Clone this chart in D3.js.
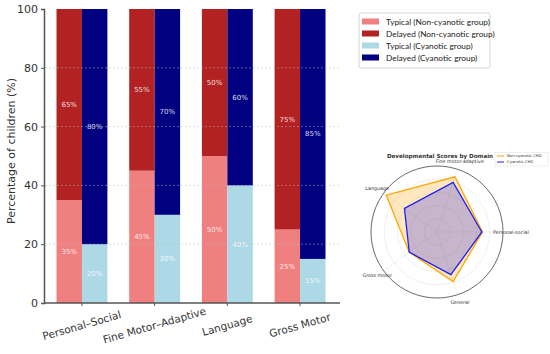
<!DOCTYPE html>
<html>
<head>
<meta charset="utf-8">
<script src="https://cdn.jsdelivr.net/npm/d3@7"></script>
<style>
  body { margin: 0; background: #fff; }
  svg { display: block; font-family: "DejaVu Sans", sans-serif; }
</style>
</head>
<body>
<div id="chart"></div>
<script>
// Bar chart data (percent of children)
var domains = ["Personal–Social", "Fine Motor–Adaptive", "Language", "Gross Motor"];
var typicalNonCyan = [35, 45, 50, 25];
var delayedNonCyan = [65, 55, 50, 75];
var typicalCyan = [20, 30, 40, 15];
var delayedCyan = [80, 70, 60, 85];
var yTicks = [0, 20, 40, 60, 80, 100];
var legendLabels = ["Typical (Non-cyanotic group)", "Delayed (Non-cyanotic group)",
                    "Typical (Cyanotic group)", "Delayed (Cyanotic group)"];

// Radar data
var radarAxes = ["Personal-social", "Fine motor-adaptive", "Language", "Gross motor", "General"];
var radarNonCyan = [69, 88, 95, 52, 79];
var radarCyan = [68, 79, 61, 52, 68];
var radarSeries = ["Non-cyanotic CHD", "Cyanotic CHD"];

var colors = ["#f08080", "#b22222", "#add8e6", "#000080"];

var W = 550, H = 354;
var svg = d3.select("#chart").append("svg").attr("width", W).attr("height", H);

// ---------- Bar chart ----------
var y = d3.scaleLinear().domain([0, 100]).range([303, 9]);
var x = d3.scaleBand().domain(domains).range([45.6, 336.4]).paddingInner(0.3).paddingOuter(0.15);
var sub = d3.scaleBand().domain(["non", "cyan"]).range([0, x.bandwidth()]);

var stacks = [
  {grp: "non", low: typicalNonCyan, high: delayedNonCyan, c0: colors[0], c1: colors[1]},
  {grp: "cyan", low: typicalCyan, high: delayedCyan, c0: colors[2], c1: colors[3]}
];

var bars = svg.append("g");
stacks.forEach(function(s) {
  domains.forEach(function(d, i) {
    var bx = x(d) + sub(s.grp);
    var lo = s.low[i], hi = s.high[i];
    bars.append("rect").attr("x", bx).attr("y", y(lo)).attr("width", sub.bandwidth())
      .attr("height", y(0) - y(lo)).attr("fill", s.c0);
    bars.append("rect").attr("x", bx).attr("y", y(lo + hi)).attr("width", sub.bandwidth())
      .attr("height", y(lo) - y(lo + hi)).attr("fill", s.c1);
    bars.append("text").attr("x", bx + sub.bandwidth() / 2).attr("y", y(lo / 2))
      .attr("dy", "0.35em").attr("text-anchor", "middle").attr("font-size", 7)
      .attr("fill", "#fff").attr("fill-opacity", 0.85).text(lo + "%");
    bars.append("text").attr("x", bx + sub.bandwidth() / 2).attr("y", y(lo + hi / 2))
      .attr("dy", "0.35em").attr("text-anchor", "middle").attr("font-size", 7)
      .attr("fill", "#fff").attr("fill-opacity", 0.85).text(hi + "%");
  });
});

// grid on top, faint dotted
svg.append("g").selectAll("line").data(yTicks.filter(function(t) { return t > 0 && t < 100; }))
  .enter().append("line")
  .attr("x1", 45).attr("x2", 340)
  .attr("y1", function(d) { return y(d); }).attr("y2", function(d) { return y(d); })
  .attr("stroke", "#bbb").attr("stroke-opacity", 0.6).attr("stroke-dasharray", "2,2").attr("stroke-width", 0.8);

// Y axis
var yAxis = svg.append("g").attr("transform", "translate(44,0)")
  .call(d3.axisLeft(y).tickValues(yTicks).tickSize(3).tickPadding(3));
yAxis.select(".domain").attr("stroke", "#555").attr("stroke-width", 1.5);
yAxis.selectAll(".tick line").attr("stroke", "#555");
yAxis.selectAll("text").attr("font-size", 11).attr("fill", "#333").attr("font-family", "DejaVu Sans");

// X axis
var xAxis = svg.append("g").attr("transform", "translate(0,303)")
  .call(d3.axisBottom(x).tickSize(3).tickSizeOuter(0));
xAxis.select(".domain").attr("stroke", "#555").attr("stroke-width", 1.5)
  .attr("d", "M44,0H340");
xAxis.selectAll(".tick line").attr("stroke", "#555");
xAxis.selectAll(".tick").attr("transform", function(d) {
  return "translate(" + (x(d) + x.bandwidth() / 2) + ",0)";
});
xAxis.selectAll("text").attr("font-size", 10.5).attr("fill", "#333").attr("font-family", "DejaVu Sans")
  .attr("y", 0).attr("dy", 0)
  .attr("transform", "translate(0,23) rotate(-16)")
  .attr("text-anchor", "middle").attr("dominant-baseline", "middle");

// Y label
svg.append("text").attr("transform", "translate(12,151) rotate(-90)")
  .attr("text-anchor", "middle").attr("dominant-baseline", "middle")
  .attr("font-size", 11).attr("fill", "#333").text("Percentage of children (%)");

// Legend
var lg = svg.append("g").attr("transform", "translate(359,13)");
lg.append("rect").attr("width", 131).attr("height", 55).attr("rx", 2)
  .attr("fill", "#fff").attr("stroke", "#ccc").attr("stroke-width", 0.8);
legendLabels.forEach(function(l, i) {
  lg.append("rect").attr("x", 3).attr("y", 5.5 + i * 12).attr("width", 17).attr("height", 6)
    .attr("fill", colors[i]);
  lg.append("text").attr("x", 27).attr("y", 9 + i * 12).attr("dy", "0.35em")
    .attr("font-family", "Lato").attr("font-size", 8.3).attr("fill", "#222").text(l);
});

// ---------- Radar chart ----------
var cx = 437, cy = 232, R = 66;
var r = d3.scaleLinear().domain([0, 100]).range([0, R]);
var ang = d3.scaleLinear().domain([0, radarAxes.length]).range([0, 2 * Math.PI]);
var radar = svg.append("g").attr("transform", "translate(" + cx + "," + cy + ")");

function pt(i, v) {
  var a = ang(i);
  return [r(v) * Math.cos(a), -r(v) * Math.sin(a)];
}

[20, 40, 60, 80].forEach(function(v) {
  radar.append("circle").attr("r", r(v)).attr("fill", "none").attr("stroke", "#e6e6e6").attr("stroke-width", 0.6);
});
radarAxes.forEach(function(a, i) {
  var p = pt(i, 100);
  radar.append("line").attr("x1", 0).attr("y1", 0).attr("x2", p[0]).attr("y2", p[1])
    .attr("stroke", "#e6e6e6").attr("stroke-width", 0.6);
});
radar.append("circle").attr("r", R).attr("fill", "none").attr("stroke", "#444").attr("stroke-width", 0.8);

var line = d3.line().curve(d3.curveLinearClosed);
[[radarNonCyan, "#ffa500"], [radarCyan, "#2020ee"]].forEach(function(s) {
  var pts = s[0].map(function(v, i) { return pt(i, v); });
  radar.append("path").attr("d", line(pts)).attr("fill", s[1]).attr("fill-opacity", 0.25)
    .attr("stroke", s[1]).attr("stroke-width", 1.3);
});

radarAxes.forEach(function(a, i) {
  var p = pt(i, 112);
  radar.append("text").attr("x", p[0]).attr("y", p[1]).attr("text-anchor", "middle")
    .attr("dy", "0.35em").attr("font-size", 4.8).attr("fill", "#333").text(a);
});

svg.append("text").attr("x", 440).attr("y", 156).attr("text-anchor", "middle").attr("dy", "0.35em")
  .attr("font-size", 5.6).attr("font-weight", "bold").attr("fill", "#333")
  .text("Developmental Scores by Domain");

var rl = svg.append("g").attr("transform", "translate(495,152.5)");
rl.append("rect").attr("width", 53).attr("height", 13.5).attr("fill", "#fff").attr("fill-opacity", 0.8)
  .attr("stroke", "#ddd").attr("stroke-width", 0.5);
radarSeries.forEach(function(n, i) {
  var c = i === 0 ? "#ffa500" : "#2020ee";
  rl.append("line").attr("x1", 2).attr("x2", 9).attr("y1", 3.5 + i * 6).attr("y2", 3.5 + i * 6)
    .attr("stroke", c).attr("stroke-width", 1);
  rl.append("text").attr("x", 12).attr("y", 3.5 + i * 6).attr("dy", "0.35em")
    .attr("font-size", 3.8).attr("fill", "#333").text(n);
});
</script>
</body>
</html>
